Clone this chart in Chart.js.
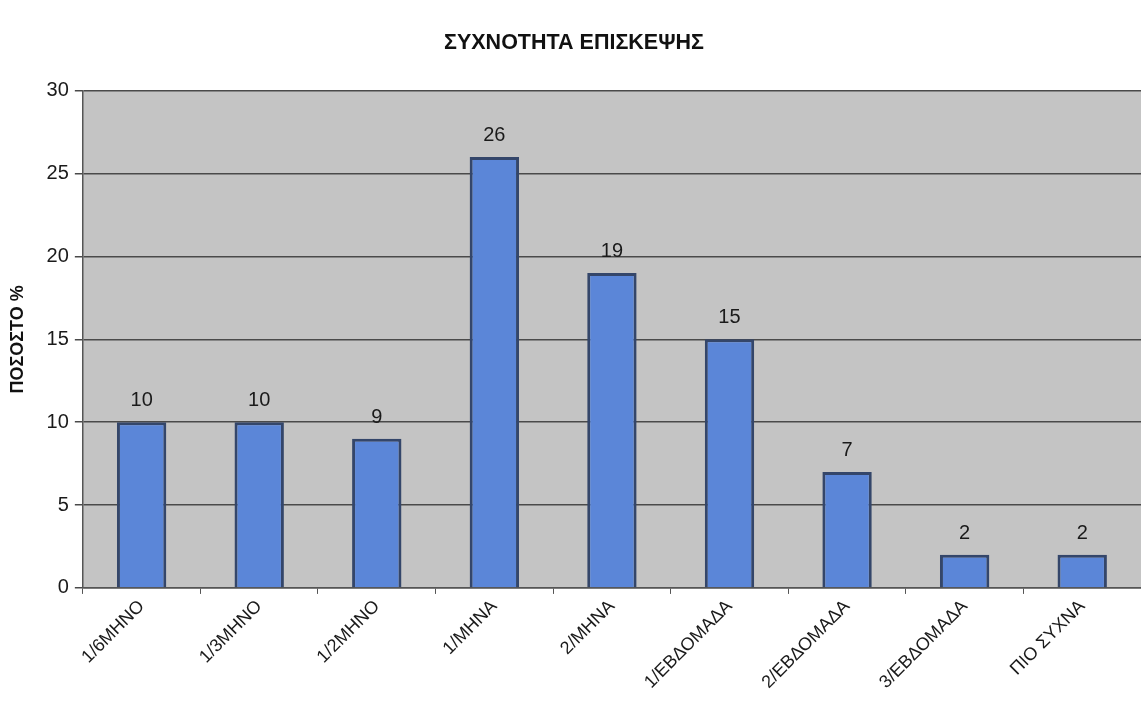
<!DOCTYPE html>
<html>
<head>
<meta charset="utf-8">
<script src="https://cdn.jsdelivr.net/npm/chart.js@4.4.1/dist/chart.umd.min.js"></script>
<style>
  html, body { margin: 0; padding: 0; background: #fff; overflow: hidden; }
  #wrap { width: 1141px; height: 717px; }
</style>
</head>
<body>
<div id="wrap"><canvas id="visitChart"></canvas></div>
<script>
const categories = ['1/6ΜΗΝΟ', '1/3ΜΗΝΟ', '1/2ΜΗΝΟ', '1/ΜΗΝΑ', '2/ΜΗΝΑ', '1/ΕΒΔΟΜΑΔΑ', '2/ΕΒΔΟΜΑΔΑ', '3/ΕΒΔΟΜΑΔΑ', 'ΠΙΟ ΣΥΧΝΑ'];
const percentages = [10, 10, 9, 26, 19, 15, 7, 2, 2];
const yTicks = [0, 5, 10, 15, 20, 25, 30];

const FONT = '"Liberation Sans", Arial, sans-serif';

// grey plot background behind the bars
const plotBackground = {
    id: 'plotBackground',
    beforeDraw(chart) {
        const { ctx, chartArea } = chart;
        ctx.save();
        ctx.fillStyle = '#c4c4c4';
        ctx.fillRect(chartArea.left, chartArea.top, chartArea.right - chartArea.left, chartArea.bottom - chartArea.top);
        ctx.restore();
    }
};

// value written above each bar
const valueLabels = {
    id: 'valueLabels',
    afterDatasetsDraw(chart) {
        const { ctx } = chart;
        const meta = chart.getDatasetMeta(0);
        ctx.save();
        ctx.font = '20px ' + FONT;
        ctx.fillStyle = '#1a1a1a';
        ctx.textAlign = 'center';
        ctx.textBaseline = 'alphabetic';
        meta.data.forEach((bar, i) => {
            ctx.fillText(String(percentages[i]), bar.x, bar.y - 16);
        });
        ctx.restore();
    }
};

const ctx = document.getElementById('visitChart').getContext('2d');

new Chart(ctx, {
    type: 'bar',
    data: {
        labels: categories,
        datasets: [{
            data: percentages,
            backgroundColor: '#5b86d8',
            borderColor: '#34466a',
            borderWidth: 3,
            categoryPercentage: 1,
            barPercentage: 0.42
        }]
    },
    options: {
        responsive: true,
        maintainAspectRatio: false,
        animation: false,
        layout: { padding: { left: 7, right: 0, top: 0, bottom: 22 } },
        plugins: {
            legend: { display: false },
            tooltip: { enabled: false },
            title: {
                display: true,
                text: 'ΣΥΧΝΟΤΗΤΑ ΕΠΙΣΚΕΨΗΣ',
                color: '#111',
                font: { family: FONT, size: 21.5, weight: 'bold' },
                padding: { top: 30, bottom: 35 }
            }
        },
        scales: {
            y: {
                min: 0,
                max: 30,
                afterBuildTicks(axis) {
                    axis.ticks = yTicks.map(v => ({ value: v }));
                },
                border: { display: true, color: '#555', width: 1.5 },
                grid: { color: '#4a4a4a', lineWidth: 1.5, tickLength: 8 },
                ticks: {
                    color: '#1a1a1a',
                    padding: 6,
                    font: { family: FONT, size: 20 }
                },
                title: {
                    display: true,
                    text: 'ΠΟΣΟΣΤΟ %',
                    color: '#111',
                    padding: { top: 0, bottom: 12 },
                    font: { family: FONT, size: 18, weight: 'bold' }
                }
            },
            x: {
                border: { display: true, color: '#555', width: 1.5 },
                grid: { drawOnChartArea: false, color: '#555', tickLength: 6 },
                ticks: {
                    color: '#1a1a1a',
                    minRotation: 45,
                    maxRotation: 45,
                    padding: 2,
                    font: { family: FONT, size: 18 }
                }
            }
        }
    },
    plugins: [plotBackground, valueLabels]
});
</script>
</body>
</html>
